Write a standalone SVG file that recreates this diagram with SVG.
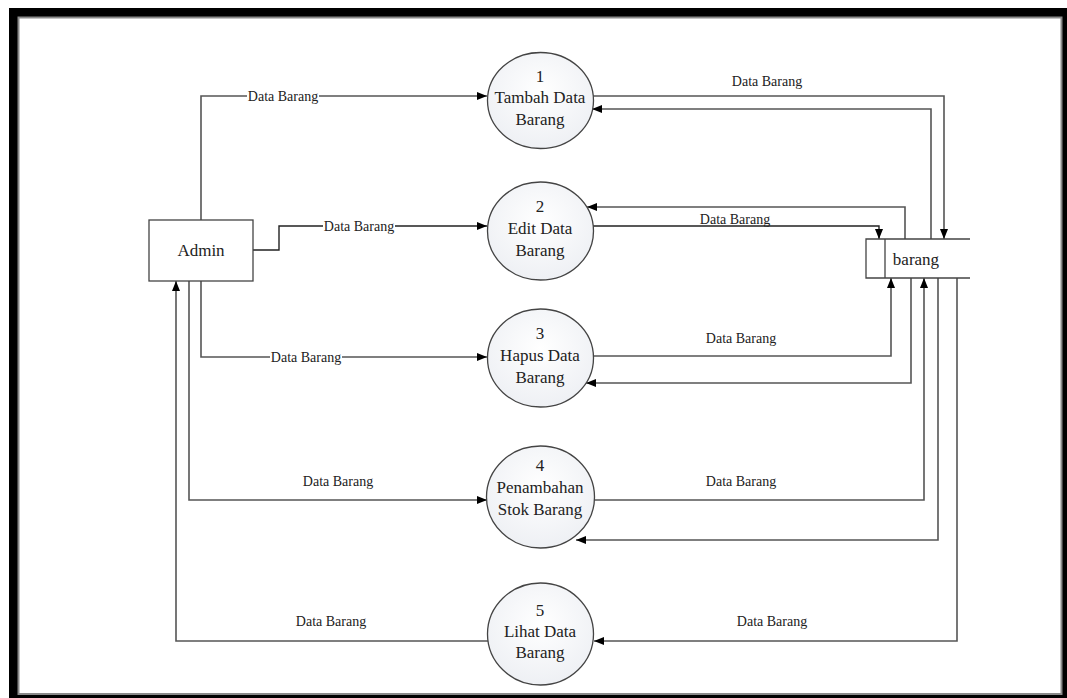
<svg xmlns="http://www.w3.org/2000/svg" width="1067" height="698" viewBox="0 0 1067 698">
<defs>
<marker id="arr" viewBox="0 0 10 8" refX="10" refY="4" markerWidth="10" markerHeight="8" markerUnits="userSpaceOnUse" orient="auto">
<path d="M0,0 L10,4 L0,8 z" fill="#000"/>
</marker>
<radialGradient id="pg" cx="50%" cy="40%" r="60%">
<stop offset="0" stop-color="#ffffff"/>
<stop offset="1" stop-color="#eef0f4"/>
</radialGradient>
<style>
.proc{fill:url(#pg);stroke:#444;stroke-width:1.3}
.ent{fill:#fff;stroke:#444;stroke-width:1.3}
.t{font-size:17px;fill:#222;text-anchor:middle;dominant-baseline:central}
.lbl{font-size:14px;fill:#222;text-anchor:middle;dominant-baseline:central}
.bg{fill:#fff}
.c{fill:none;stroke:#555;stroke-width:1.6}
.c2{fill:none;stroke:#222;stroke-width:1.4}
</style>
</defs>
<rect x="0" y="0" width="1067" height="698" fill="#fff"/>
<rect x="9" y="8" width="1058" height="690" fill="#000"/>
<rect x="18.5" y="17.5" width="1043" height="676.5" fill="#fff" stroke="#8a8a8a" stroke-width="2"/>

<g font-family="Liberation Serif, DejaVu Serif, serif">
<g id="connectors">
<path class="c" d="M201,220 V96 H487" marker-end="url(#arr)"/>
<path class="c2" d="M253,250 H279 V226 H487" marker-end="url(#arr)"/>
<path class="c" d="M201,281 V357 H487" marker-end="url(#arr)"/>
<path class="c" d="M189,281 V500 H487" marker-end="url(#arr)"/>
<path class="c" d="M488,641 H176 V281" marker-end="url(#arr)"/>
<path class="c" d="M593,96 H944 V239" marker-end="url(#arr)"/>
<path class="c" d="M931,239 V109 H592" marker-end="url(#arr)"/>
<path class="c" d="M905,239 V207 H587" marker-end="url(#arr)"/>
<path class="c2" d="M593,226 H879 V239" marker-end="url(#arr)"/>
<path class="c" d="M593,356 H891 V278" marker-end="url(#arr)"/>
<path class="c" d="M911,278 V383 H586" marker-end="url(#arr)"/>
<path class="c" d="M594,500 H924 V278" marker-end="url(#arr)"/>
<path class="c" d="M938,278 V540 H576" marker-end="url(#arr)"/>
<path class="c" d="M957,278 V641 H594" marker-end="url(#arr)"/>
<rect class="bg" x="247" y="88" width="72" height="16"/>
<text class="lbl" x="283" y="96">Data Barang</text>
<rect class="bg" x="323" y="218" width="72" height="16"/>
<text class="lbl" x="359" y="226">Data Barang</text>
<rect class="bg" x="270" y="349" width="72" height="16"/>
<text class="lbl" x="306" y="357">Data Barang</text>
<text class="lbl" x="338" y="481">Data Barang</text>
<text class="lbl" x="331" y="621">Data Barang</text>
<text class="lbl" x="767" y="81">Data Barang</text>
<text class="lbl" x="735" y="219">Data Barang</text>
<text class="lbl" x="741" y="338">Data Barang</text>
<text class="lbl" x="741" y="481">Data Barang</text>
<text class="lbl" x="772" y="621">Data Barang</text>
</g>

<g id="admin">
<rect class="ent" x="149" y="220" width="104" height="61"/>
<text class="t" x="201" y="250">Admin</text>
</g>

<g id="store-barang">
<rect x="866" y="239" width="104" height="39" fill="#fff"/>
<path d="M970,239 H866 V278 H970 M885,239 V278" fill="none" stroke="#444" stroke-width="1.3"/>
<text class="t" x="916" y="259">barang</text>
</g>

<g id="p1">
<ellipse class="proc" cx="540.5" cy="100.5" rx="53" ry="48"/>
<text class="t" x="540" y="76">1</text>
<text class="t" x="540" y="97">Tambah Data</text>
<text class="t" x="540" y="119">Barang</text>
</g>
<g id="p2">
<ellipse class="proc" cx="540.5" cy="231" rx="53" ry="49"/>
<text class="t" x="540" y="206">2</text>
<text class="t" x="540" y="228">Edit Data</text>
<text class="t" x="540" y="250">Barang</text>
</g>
<g id="p3">
<ellipse class="proc" cx="540.5" cy="358" rx="53" ry="49"/>
<text class="t" x="540" y="333">3</text>
<text class="t" x="540" y="355">Hapus Data</text>
<text class="t" x="540" y="377">Barang</text>
</g>
<g id="p4">
<ellipse class="proc" cx="540.5" cy="497" rx="54" ry="51"/>
<text class="t" x="540" y="465">4</text>
<text class="t" x="540" y="487">Penambahan</text>
<text class="t" x="540" y="509">Stok Barang</text>
</g>
<g id="p5">
<ellipse class="proc" cx="540.5" cy="634" rx="53" ry="51"/>
<text class="t" x="540" y="610">5</text>
<text class="t" x="540" y="631">Lihat Data</text>
<text class="t" x="540" y="652">Barang</text>
</g>
</g>
</svg>
